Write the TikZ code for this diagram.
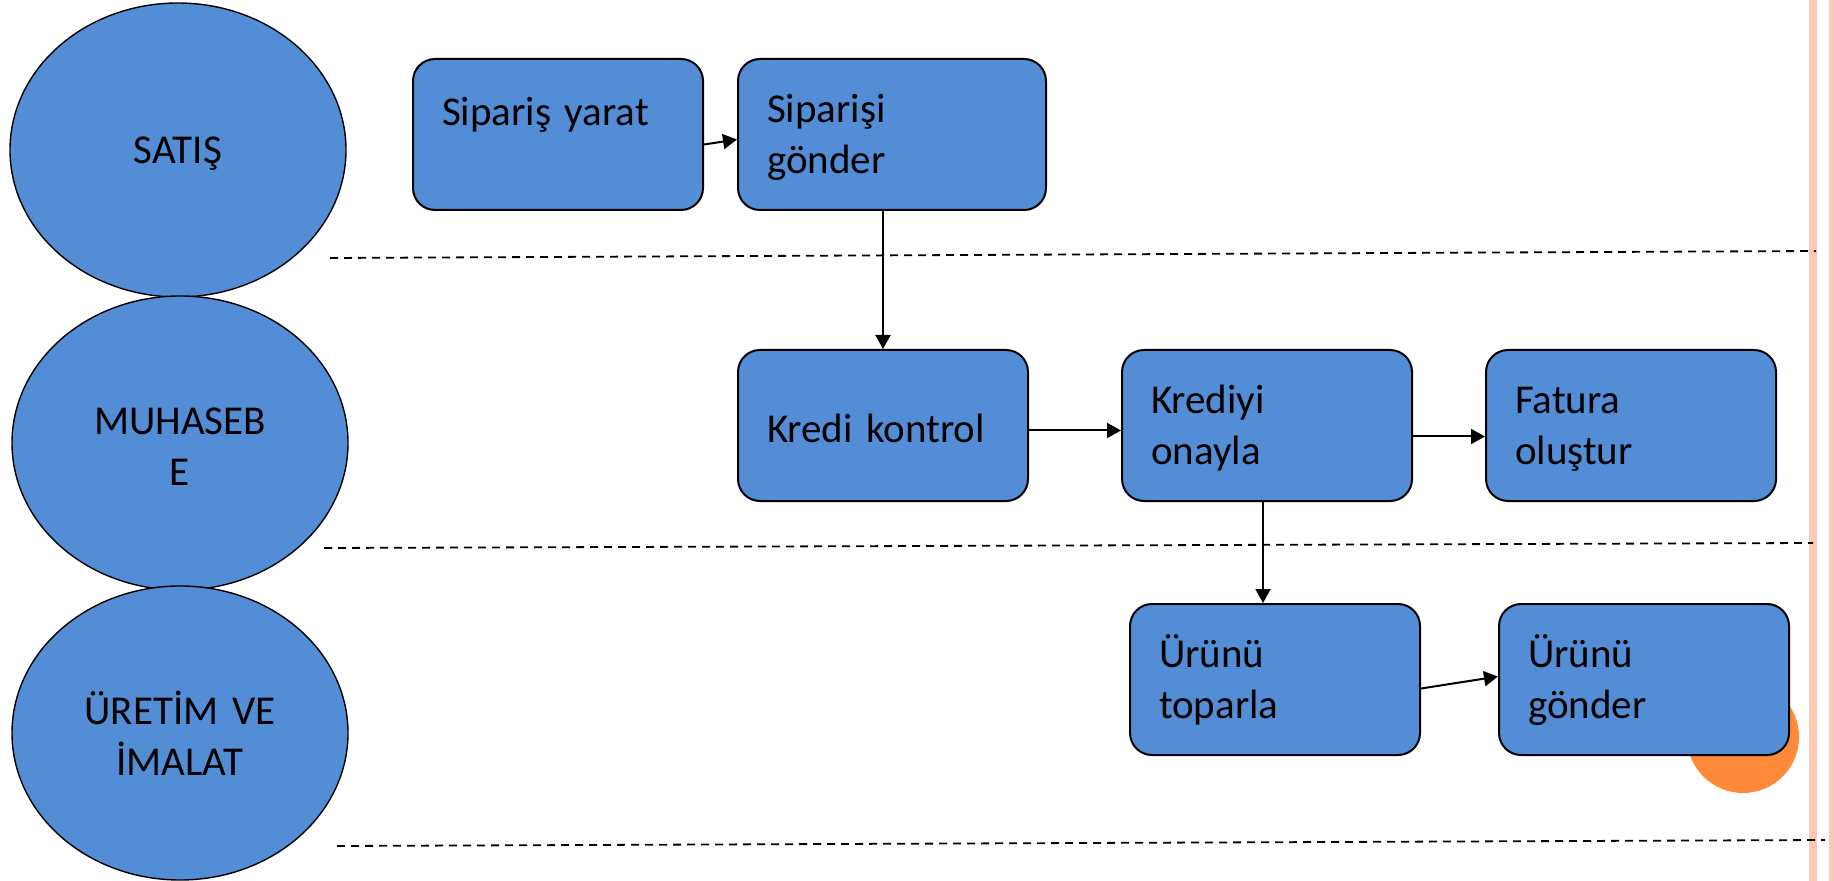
\documentclass[tikz,border=0pt]{standalone}
\usepackage{fontspec}
\setmainfont{Carlito}
\usepackage{tikz}
\usetikzlibrary{positioning}
\usetikzlibrary{shapes.geometric}
\usetikzlibrary{arrows.meta}

\definecolor{laneblue}{RGB}{83,141,213}
\definecolor{dotorange}{RGB}{255,139,58}
\definecolor{edgesalmon}{RGB}{255,200,180}

\begin{document}
\begin{tikzpicture}[x=0.5pt, y=-0.5pt,
                          lanenode/.style={ellipse, draw, fill=laneblue, line width=0.7pt, minimum width=168pt, minimum height=147pt, inner sep=0pt, text width=100pt, align=center, font=\fontsize{20.5}{25.5}\selectfont, text height=17pt},
                          stepnode/.style={rectangle, rounded corners=11pt, draw, fill=laneblue, line width=1pt, minimum height=75.5pt, inner xsep=14.5pt, inner ysep=0pt, text width=116pt, align=left, font=\fontsize{20.5}{25.5}\selectfont, text height=17pt},
                          lanesep/.style={dash pattern=on 4pt off 3pt, line width=0.9pt},
                          flow/.style={-{Triangle[length=7pt,width=7.5pt]}, line width=1pt},
                      ]
                      \useasboundingbox (0,0) rectangle (1834,881);

                      % Background
                      \fill[edgesalmon] (1809,0) rectangle (1817,881);
                      \fill[edgesalmon] (1829,0) rectangle (1834,881);
                      \fill[dotorange] (1743,737) circle (28pt);

                      % Lanes
                      \node[lanenode]         (lane_satis)      at (178,150)         {SATIŞ};
                      \node[lanenode]         (lane_muhasebe)   at (180,443)         {MUHASEB\\E};
                      \node[lanenode]         (lane_uretim)     at (180,733)         {ÜRETİM VE\\İMALAT};

                      \draw[lanesep] (330,258) -- (1816,251);
                      \draw[lanesep] (324,548) -- (1813,543);
                      \draw[lanesep] (337,846) -- (1825,840);

                      % Nodes
                      \node[stepnode]         (siparis_yarat)   at (558,134.5)       {Sipariş yarat\\\mbox{}};
                      \node[stepnode, text width=125pt] (siparis_gonder) [right=16.5pt of siparis_yarat] {Siparişi\\gönder};

                      \node[stepnode]         (kredi_kontrol)   [below=69pt of siparis_gonder.south west, anchor=north west] {Kredi kontrol};
                      \node[stepnode]         (kredi_onay)      [right=46pt of kredi_kontrol]    {Krediyi\\onayla};
                      \node[stepnode]         (fatura)          [right=36pt of kredi_onay]     {Fatura\\oluştur};

                      \node[stepnode]         (urun_toparla)    [below=50.5pt of kredi_onay.south west, anchor=north west, xshift=4pt] {Ürünü\\toparla};
                      \node[stepnode]         (urun_gonder)     [right=38.5pt of urun_toparla]     {Ürünü\\gönder};

                      % Lines
                      \draw[flow] ([yshift=-5pt]siparis_yarat.east) -- ([yshift=-2.5pt]siparis_gonder.west);
                      \draw[flow] (siparis_gonder.south -| kredi_kontrol.north) -- (kredi_kontrol.north);
                      \draw[flow] ([yshift=-2.5pt]kredi_kontrol.east) -- ([yshift=-2.5pt]kredi_onay.west);
                      \draw[flow] ([yshift=-5.5pt]kredi_onay.east) -- ([yshift=-5.5pt]fatura.west);
                      \draw[flow] ([xshift=-2pt]kredi_onay.south) -- ([xshift=-2pt]kredi_onay.south |- urun_toparla.north);
                      \draw[flow] ([yshift=-4.5pt]urun_toparla.east) -- ([yshift=1.5pt]urun_gonder.west);
                  \end{tikzpicture}
\end{document}
